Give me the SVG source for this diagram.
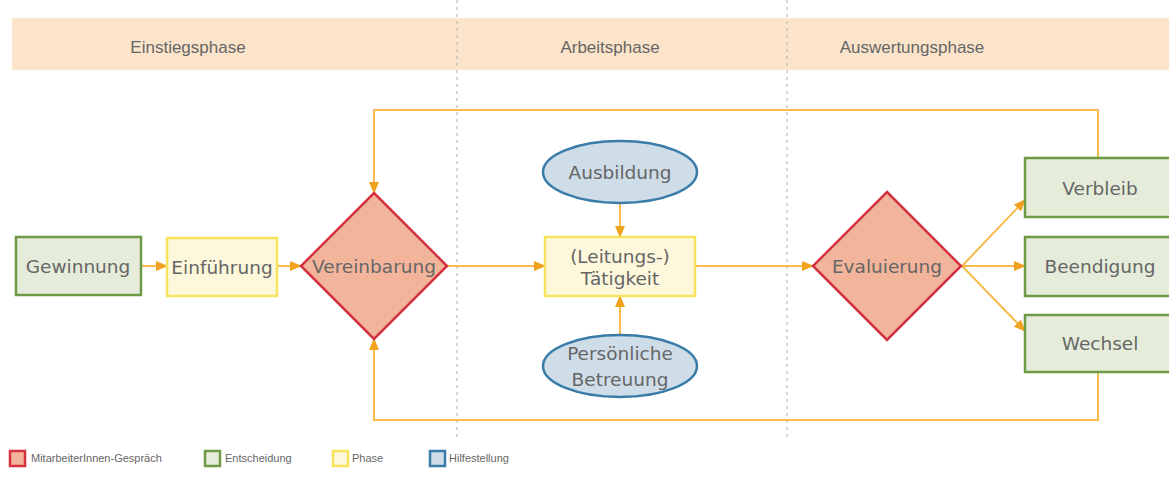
<svg xmlns="http://www.w3.org/2000/svg" width="1169" height="500" viewBox="0 0 1169 500">
<defs>
<marker id="ah" markerUnits="userSpaceOnUse" markerWidth="12" markerHeight="10" refX="11" refY="5" orient="auto">
<path d="M0,0 L12,5 L0,10 Z" fill="#f0a21e"/>
</marker>
<style>
text{font-family:"Liberation Sans",Arial,sans-serif;fill:#666}
.hdr{font-family:"Liberation Sans Narrow","Liberation Sans",Arial,sans-serif;font-size:17px;text-anchor:middle}
.lbl{font-family:"DejaVu Sans","Liberation Sans",sans-serif;font-size:18.5px;text-anchor:middle;dominant-baseline:central}
.leg{font-size:11px}
.green{fill:#e5edda;stroke:#6f9a45;stroke-width:2.5}
.yellow{fill:#fdf8dc;stroke:#f8e35c;stroke-width:2.5}
.red{fill:#f3b49c;stroke:#d5323f;stroke-width:2.5}
.blue{fill:#cfdde9;stroke:#3a7ca8;stroke-width:2.5}
.con{fill:none;stroke:#f6bb4c;stroke-width:2}
.arr{marker-end:url(#ah)}
.dash{stroke:#bbbbbb;stroke-width:1.2;stroke-dasharray:3,4}
</style>
</defs>
<rect x="0" y="0" width="1169" height="500" fill="#ffffff"/>
<g id="header">
<rect x="12" y="18" width="1157" height="52" fill="#fbe4ca"/>
<text class="hdr" x="188" y="53">Einstiegsphase</text>
<text class="hdr" x="610" y="53">Arbeitsphase</text>
<text class="hdr" x="912" y="53">Auswertungsphase</text>
</g>
<g id="dividers">
<line class="dash" x1="457" y1="0" x2="457" y2="440"/>
<line class="dash" x1="787" y1="0" x2="787" y2="440"/>
</g>
<g id="connectors">
<line class="con arr" x1="141" y1="266" x2="167" y2="266"/>
<line class="con arr" x1="277" y1="266" x2="301" y2="266"/>
<line class="con arr" x1="447" y1="266" x2="545" y2="266"/>
<line class="con arr" x1="620" y1="203" x2="620" y2="237"/>
<line class="con arr" x1="620" y1="335" x2="620" y2="296"/>
<line class="con arr" x1="695" y1="266" x2="813" y2="266"/>
<line class="con arr" x1="962" y1="266" x2="1025" y2="200"/>
<line class="con arr" x1="962" y1="266" x2="1025" y2="266"/>
<line class="con arr" x1="962" y1="266" x2="1025" y2="331"/>
<polyline class="con arr" points="1098,158 1098,110 374,110 374,193"/>
<polyline class="con arr" points="1098,372 1098,420 374,420 374,339"/>
</g>
<g id="gewinnung">
<rect class="green" x="16" y="237" width="125" height="58"/>
<text class="lbl" x="78" y="266">Gewinnung</text>
</g>
<g id="einfuehrung">
<rect class="yellow" x="167" y="238" width="110" height="58"/>
<text class="lbl" x="222" y="267">Einführung</text>
</g>
<g id="vereinbarung">
<polygon class="red" points="374,193 447,266 374,339 301,266"/>
<text class="lbl" x="374" y="266">Vereinbarung</text>
</g>
<g id="ausbildung">
<ellipse class="blue" cx="620" cy="172" rx="77" ry="31"/>
<text class="lbl" x="620" y="172">Ausbildung</text>
</g>
<g id="taetigkeit">
<rect class="yellow" x="545" y="237" width="150" height="59"/>
<text class="lbl" x="620" y="256">(Leitungs-)</text>
<text class="lbl" x="620" y="278">Tätigkeit</text>
</g>
<g id="betreuung">
<ellipse class="blue" cx="620" cy="366" rx="77" ry="31"/>
<text class="lbl" x="620" y="353">Persönliche</text>
<text class="lbl" x="620" y="379">Betreuung</text>
</g>
<g id="evaluierung">
<polygon class="red" points="887,192 961,266 887,340 813,266"/>
<text class="lbl" x="887" y="266">Evaluierung</text>
</g>
<g id="verbleib">
<rect class="green" x="1025" y="158" width="150" height="59"/>
<text class="lbl" x="1100" y="188">Verbleib</text>
</g>
<g id="beendigung">
<rect class="green" x="1025" y="237" width="150" height="59"/>
<text class="lbl" x="1100" y="266">Beendigung</text>
</g>
<g id="wechsel">
<rect class="green" x="1025" y="315" width="150" height="57"/>
<text class="lbl" x="1100" y="343">Wechsel</text>
</g>
<g id="legend">
<rect class="red" x="10" y="451" width="15" height="15" stroke-width="1.8"/>
<text class="leg" x="31" y="462">MitarbeiterInnen-Gespräch</text>
<rect class="green" x="205" y="451" width="15" height="15" stroke-width="1.8"/>
<text class="leg" x="225" y="462">Entscheidung</text>
<rect class="yellow" x="333" y="451" width="15" height="15" stroke-width="1.8"/>
<text class="leg" x="352" y="462">Phase</text>
<rect class="blue" x="430" y="451" width="15" height="15" stroke-width="1.8"/>
<text class="leg" x="449" y="462">Hilfestellung</text>
</g>
</svg>
